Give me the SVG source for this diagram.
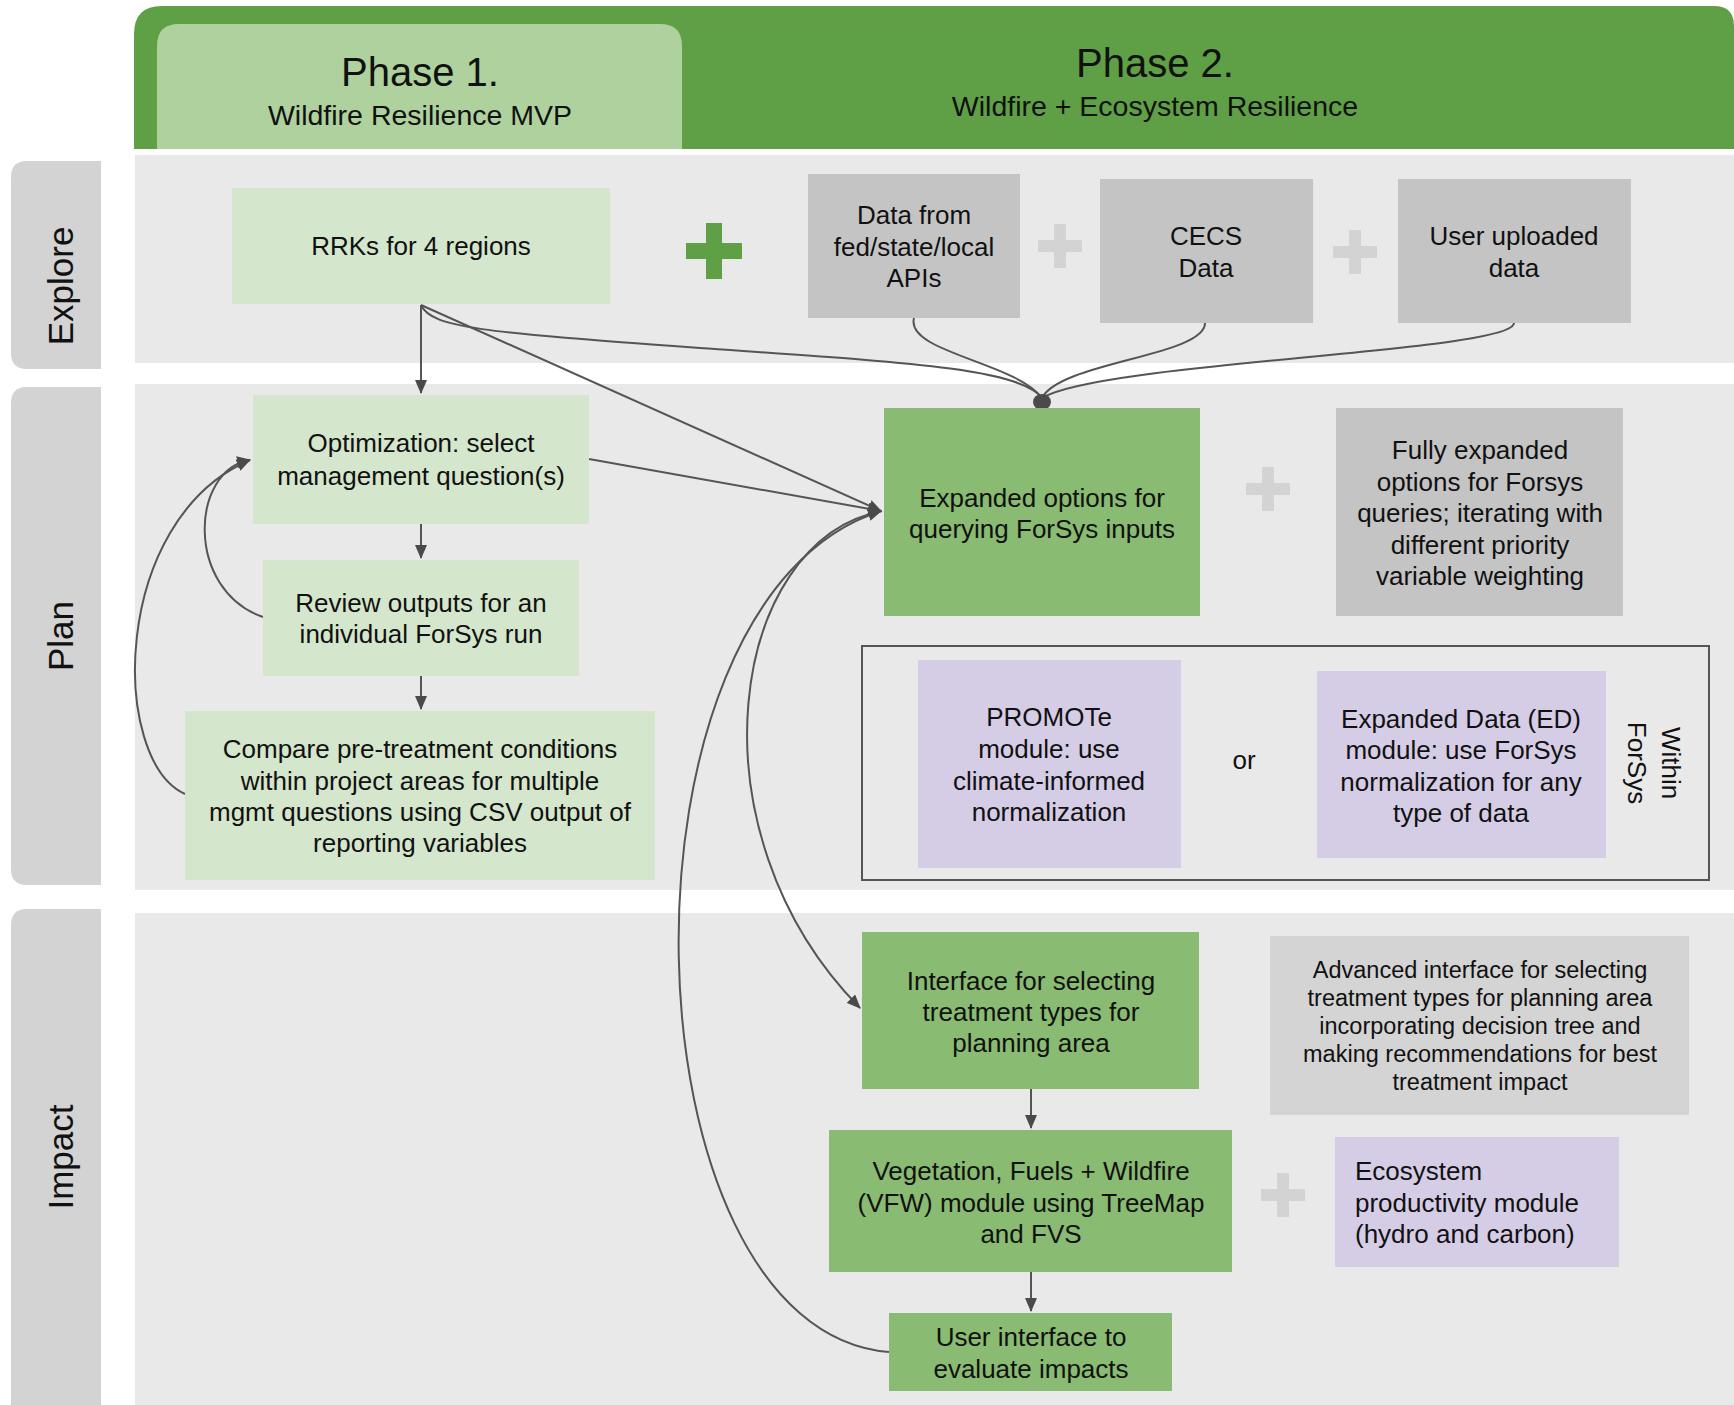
<svg xmlns="http://www.w3.org/2000/svg" width="1734" height="1405" viewBox="0 0 1734 1405">
<style>
text{font-family:"Liberation Sans",Arial,sans-serif;fill:#111;}
.t{font-size:26px;text-anchor:middle;}
.s{font-size:23.5px;text-anchor:middle;}
.lane{font-size:35px;text-anchor:middle;}
.lgreen{fill:#d4e6cc;}
.mgreen{fill:#89bb72;}
.gray{fill:#c4c4c4;}
.lgray{fill:#d4d4d4;}
.lav{fill:#d5cde6;}
.bg{fill:#e9e9e9;}
.lab{fill:#d3d3d3;}
.c{fill:none;stroke:#555;stroke-width:2;}
.plus{fill:#d3d3d3;}
</style>
<defs>
<marker id="ah" markerWidth="14" markerHeight="12" refX="13" refY="6" orient="auto" markerUnits="userSpaceOnUse">
<path d="M0,0 L14,6 L0,12 Z" fill="#4a4a4a"/>
</marker>
</defs>
<rect width="1734" height="1405" fill="#fff"/>
<g id="header">
<path d="M134,149 V34 Q134,6 162,6 H1714 Q1734,6 1734,26 V149 Z" fill="#5f9f45"/>
<path d="M157,149 V46 Q157,24 179,24 H660 Q682,24 682,46 V149 Z" fill="#aed19e"/>
<text x="420" y="86" style="font-size:40px;text-anchor:middle">Phase 1.</text>
<text x="420" y="125" style="font-size:28.5px;text-anchor:middle">Wildfire Resilience MVP</text>
<text x="1155" y="77" style="font-size:40px;text-anchor:middle">Phase 2.</text>
<text x="1155" y="116" style="font-size:28.5px;text-anchor:middle">Wildfire + Ecosystem Resilience</text>
</g>
<g id="lanes">
<rect class="bg" x="135" y="155" width="1599" height="208"/>
<rect class="bg" x="135" y="384" width="1599" height="506"/>
<rect class="bg" x="135" y="913" width="1599" height="492"/>
<path class="lab" d="M101,161 V369 H27 Q11,369 11,353 V177 Q11,161 27,161 Z"/>
<path class="lab" d="M101,387 V885 H27 Q11,885 11,869 V403 Q11,387 27,387 Z"/>
<path class="lab" d="M101,909 V1405 H11 V925 Q11,909 27,909 Z"/>
<text class="lane" transform="translate(73,286) rotate(-90)">Explore</text>
<text class="lane" transform="translate(73,636) rotate(-90)">Plan</text>
<text class="lane" transform="translate(73,1157) rotate(-90)">Impact</text>
</g>
<g id="pluses">
<path d="M706,223 h16 v20 h20 v16 h-20 v20 h-16 v-20 h-20 v-16 h20 Z" fill="#5f9f45"/>
<path class="plus" d="M1054,224 h12 v16 h16 v12 h-16 v16 h-12 v-16 h-16 v-12 h16 Z"/>
<path class="plus" d="M1349,230 h12 v16 h16 v12 h-16 v16 h-12 v-16 h-16 v-12 h16 Z"/>
<path class="plus" d="M1262,467 h12 v16 h16 v12 h-16 v16 h-12 v-16 h-16 v-12 h16 Z"/>
<path class="plus" d="M1277,1173 h12 v16 h16 v12 h-16 v16 h-12 v-16 h-16 v-12 h16 Z"/>
</g>
<g id="connectors">
<path class="c" d="M421,305 V393" marker-end="url(#ah)"/>
<path class="c" d="M421,305 L881,511" marker-end="url(#ah)"/>
<path class="c" d="M421,305 C432,328 480,332 700,348 C900,362 1020,368 1042,398"/>
<path class="c" d="M914,318 C905,352 1015,362 1042,398"/>
<path class="c" d="M1205,323 C1205,356 1060,362 1042,398"/>
<path class="c" d="M1514,323 C1514,352 1100,362 1042,398"/>
<ellipse cx="1042" cy="402" rx="9" ry="8" fill="#4a4a4a"/>
<path class="c" d="M589,459 L881,511" marker-end="url(#ah)"/>
<path class="c" d="M421,524 V558" marker-end="url(#ah)"/>
<path class="c" d="M421,676 V709" marker-end="url(#ah)"/>
<path class="c" d="M263,617 C185,590 190,470 250,460" marker-end="url(#ah)"/>
<path class="c" d="M185,794 C110,760 110,520 250,460" marker-end="url(#ah)"/>
<path class="c" d="M882,511 C730,540 685,830 860,1008" marker-end="url(#ah)"/>
<path class="c" d="M889,1352 C620,1330 600,600 881,511" marker-end="url(#ah)"/>
<path class="c" d="M1031,1089 V1128" marker-end="url(#ah)"/>
<path class="c" d="M1031,1272 V1311" marker-end="url(#ah)"/>
</g>
<g id="n-rrks"><rect class="lgreen" x="232" y="188" width="378" height="116"/>
<text class="t" x="421" y="255">RRKs for 4 regions</text></g>
<g id="n-apis"><rect class="gray" x="808" y="174" width="212" height="144"/>
<text class="t" x="914" y="224">Data from</text><text class="t" x="914" y="256">fed/state/local</text><text class="t" x="914" y="287">APIs</text></g>
<g id="n-cecs"><rect class="gray" x="1100" y="179" width="213" height="144"/>
<text class="t" x="1206" y="245">CECS</text><text class="t" x="1206" y="277">Data</text></g>
<g id="n-user"><rect class="gray" x="1398" y="179" width="233" height="144"/>
<text class="t" x="1514" y="245">User uploaded</text><text class="t" x="1514" y="277">data</text></g>
<g id="n-opt"><rect class="lgreen" x="253" y="395" width="336" height="129"/>
<text class="t" x="421" y="452">Optimization: select</text><text class="t" x="421" y="485">management question(s)</text></g>
<g id="n-review"><rect class="lgreen" x="263" y="560" width="316" height="116"/>
<text class="t" x="421" y="612">Review outputs for an</text><text class="t" x="421" y="643">individual ForSys run</text></g>
<g id="n-compare"><rect class="lgreen" x="185" y="711" width="470" height="169"/>
<text class="t" x="420" y="758">Compare pre-treatment conditions</text><text class="t" x="420" y="790">within project areas for multiple</text><text class="t" x="420" y="821">mgmt questions using CSV output of</text><text class="t" x="420" y="852">reporting variables</text></g>
<g id="n-expanded"><rect class="mgreen" x="884" y="408" width="316" height="208"/>
<text class="t" x="1042" y="507">Expanded options for</text><text class="t" x="1042" y="538">querying ForSys inputs</text></g>
<g id="n-fully"><rect class="gray" x="1336" y="408" width="287" height="208"/>
<text class="t" x="1480" y="459">Fully expanded</text><text class="t" x="1480" y="491">options for Forsys</text><text class="t" x="1480" y="522">queries; iterating with</text><text class="t" x="1480" y="554">different priority</text><text class="t" x="1480" y="585">variable weighting</text></g>
<g id="n-within"><rect x="862" y="646" width="847" height="234" fill="none" stroke="#555" stroke-width="2"/>
<text class="t" transform="translate(1653,763) rotate(90)"><tspan x="0" y="-9">Within</tspan><tspan x="0" y="25">ForSys</tspan></text></g>
<g id="n-promote"><rect class="lav" x="918" y="660" width="263" height="208"/>
<text class="t" x="1049" y="726">PROMOTe</text><text class="t" x="1049" y="758">module: use</text><text class="t" x="1049" y="790">climate-informed</text><text class="t" x="1049" y="821">normalization</text></g>
<text id="or" class="t" x="1244" y="769">or</text>
<g id="n-ed"><rect class="lav" x="1317" y="671" width="289" height="187"/>
<text class="t" x="1461" y="728">Expanded Data (ED)</text><text class="t" x="1461" y="759">module: use ForSys</text><text class="t" x="1461" y="791">normalization for any</text><text class="t" x="1461" y="822">type of data</text></g>
<g id="n-interface"><rect class="mgreen" x="862" y="932" width="337" height="157"/>
<text class="t" x="1031" y="990">Interface for selecting</text><text class="t" x="1031" y="1021">treatment types for</text><text class="t" x="1031" y="1052">planning area</text></g>
<g id="n-advanced"><rect class="lgray" x="1270" y="936" width="419" height="179"/>
<text class="s" x="1480" y="978">Advanced interface for selecting</text><text class="s" x="1480" y="1006">treatment types for planning area</text><text class="s" x="1480" y="1034">incorporating decision tree and</text><text class="s" x="1480" y="1062">making recommendations for best</text><text class="s" x="1480" y="1090">treatment impact</text></g>
<g id="n-vfw"><rect class="mgreen" x="829" y="1130" width="403" height="142"/>
<text class="t" x="1031" y="1180">Vegetation, Fuels + Wildfire</text><text class="t" x="1031" y="1212">(VFW) module using TreeMap</text><text class="t" x="1031" y="1243">and FVS</text></g>
<g id="n-eco"><rect class="lav" x="1335" y="1137" width="284" height="130"/>
<text style="font-size:26px" x="1355" y="1180">Ecosystem</text><text style="font-size:26px" x="1355" y="1212">productivity module</text><text style="font-size:26px" x="1355" y="1243">(hydro and carbon)</text></g>
<g id="n-ui"><rect class="mgreen" x="889" y="1313" width="283" height="78"/>
<text class="t" x="1031" y="1346">User interface to</text><text class="t" x="1031" y="1378">evaluate impacts</text></g>
</svg>
